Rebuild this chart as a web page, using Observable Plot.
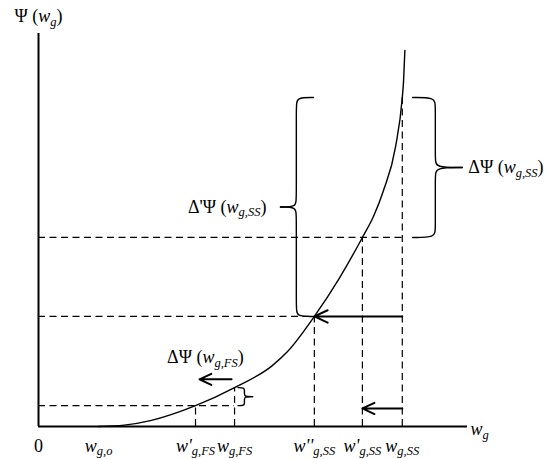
<!DOCTYPE html>
<html><head><meta charset="utf-8">
<script src="https://cdn.jsdelivr.net/npm/d3@7"></script>
<script src="https://cdn.jsdelivr.net/npm/@observablehq/plot@0.6"></script>
<style>html,body{margin:0;padding:0;background:#fff;}</style>
</head><body><div id="chart"></div>
<script>
// ---- data ----
// labelled points along the w_g axis
const xLabels = ["0", "w_g,o", "w'_g,FS", "w_g,FS", "w''_g,SS", "w'_g,SS", "w_g,SS"];
const xValues = [0, 14, 36.6, 45.7, 64.3, 75.5, 84.8];
// Ψ(w) at each labelled point
const psiValues = [0, 0, 5.3, 9.9, 28.0, 48.1, 83.7];
// Ψ(w_g) curve samples
const curveX = [14, 20, 26.1, 36.6, 45.7, 54.5, 58, 64.3, 70, 75.5, 78.1, 80.4, 83.2, 84.8, 85.1, 85.4];
const curveY = [0, 0.35, 1.5, 5.3, 9.9, 15.5, 19, 28.0, 37.5, 48.1, 53.5, 60.0, 71.0, 83.7, 88.0, 95.7];
// axis titles
const axisTitles = ["Ψ (w_g)", "w_g"];
// braces: label, top/bottom point index (Ψ range)
const braceLabels = ["Δ'Ψ (w_g,SS)", "ΔΨ (w_g,SS)", "ΔΨ (w_g,FS)"];
const braceTop = [6, 6, 3];
const braceBottom = [4, 5, 2];
// shifts of arrows: [from index, to index]
const arrowFrom = [6, 6, 3];
const arrowTo = [4, 5, 2];
const arrowLevel = [28.0, 4.6, 12.0];

// ---- layout (annotation geometry, data units) ----
const braceSpineX = [60.1, 92.5, 48.0];
const braceHookX = [64.1, 87.2, 46.5];
const braceTipX = [56.4, 98.8, 49.9];
const braceLabelPos = [{dx: -14, anchor: "end"}, {dx: 6, anchor: "start"}, null];
const fsLabelXY = [38.9, 17.6];

// ---- derived tables ----
const curve = curveX.map((x, i) => ({x, y: curveY[i]}));
const ticks = xLabels.map((label, i) => ({label, x: xValues[i], y: 0}));
const verticals = [2, 3, 4, 5, 6].map(i => ({x: xValues[i], y1: 0, y2: psiValues[i]}));
const horizontals = [[2, 3], [4, 4], [5, 6]].map(([i, j]) => ({y: psiValues[i], x1: 0, x2: xValues[j]}));
const arrows = arrowFrom.map((f, k) => ({x1: xValues[f], x2: xValues[arrowTo[k]], y: arrowLevel[k]}));

const bracePts = [];
const braceText = [];
braceLabels.forEach((label, k) => {
  const y0 = psiValues[braceTop[k]], y1 = psiValues[braceBottom[k]];
  const ym = (y0 + y1) / 2;
  const xs = braceSpineX[k], hx = braceHookX[k], tx = braceTipX[k];
  const d = Math.min(2, (y0 - y1) / 6);
  const up = [[hx, y0], [xs, y0], [xs, y0 - d], [xs, ym + d], [xs, ym], [tx, ym]];
  const lo = [[tx, ym], [xs, ym], [xs, ym - d], [xs, y1 + d], [xs, y1], [hx, y1]];
  up.forEach(([x, y]) => bracePts.push({id: k + "u", x, y}));
  lo.forEach(([x, y]) => bracePts.push({id: k + "l", x, y}));
  const p = braceLabelPos[k];
  if (p) braceText.push({label, x: tx, y: ym, dx: p.dx, anchor: p.anchor});
});

const dash = "7,4.5";
const chart = Plot.plot({
  width: 553, height: 459,
  marginLeft: 38, marginRight: 86, marginTop: 33, marginBottom: 33,
  x: {domain: [0, 100], axis: null},
  y: {domain: [0, 100], axis: null},
  style: {fontFamily: "'Liberation Serif', 'Times New Roman', serif", fontSize: "18px", background: "white", color: "black"},
  marks: [
    Plot.ruleX(verticals, {x: "x", y1: "y1", y2: "y2", strokeDasharray: dash, strokeWidth: 1.2}),
    Plot.ruleY(horizontals, {y: "y", x1: "x1", x2: "x2", strokeDasharray: dash, strokeWidth: 1.2}),
    Plot.line(curve, {x: "x", y: "y", curve: "monotone-x", strokeWidth: 1.4}),
    Plot.arrow(arrows.slice(0, 2), {x1: "x1", x2: "x2", y1: "y", y2: "y", strokeWidth: 2, headLength: 11, headAngle: 50}),
    Plot.arrow(arrows.slice(2), {x1: "x1", x2: "x2", y1: "y", y2: "y", strokeWidth: 2, headLength: 11, headAngle: 50, insetStart: 3, insetEnd: 4}),
    Plot.line(bracePts, {x: "x", y: "y", z: "id", curve: "basis", strokeWidth: 1.4}),
    Plot.ruleX([0], {y1: 0, y2: 100, strokeWidth: 2}),
    Plot.ruleY([0], {x1: 0, x2: 100, strokeWidth: 2}),
    Plot.text(ticks, {x: "x", y: "y", text: "label", dy: 19.5}),
    Plot.text([{label: axisTitles[0], x: 0, y: 100}], {x: "x", y: "y", text: "label", dy: -17}),
    Plot.text([{label: axisTitles[1], x: 100, y: 0}], {x: "x", y: "y", text: "label", dx: 3, dy: 3, textAnchor: "start"}),
    Plot.text(braceText.filter(b => b.anchor === "end"), {x: "x", y: "y", text: "label", dx: -14, textAnchor: "end"}),
    Plot.text(braceText.filter(b => b.anchor === "start"), {x: "x", y: "y", text: "label", dx: 6, textAnchor: "start"}),
    Plot.text([{label: braceLabels[2], x: fsLabelXY[0], y: fsLabelXY[1]}], {x: "x", y: "y", text: "label"})
  ]
});

// rich text: italic w, primes, subscripts
function richText(el) {
  const s = el.textContent;
  const m = s.match(/^([^w]*)(w'*)_([^)]*)(\)?)$/);
  if (!m) return;
  el.textContent = "";
  const ns = "http://www.w3.org/2000/svg";
  const add = (t, opts) => {
    if (!t) return;
    const ts = document.createElementNS(ns, "tspan");
    ts.textContent = t;
    for (const k in opts) ts.setAttribute(k, opts[k]);
    el.appendChild(ts);
  };
  add(m[1], {});
  add(m[2], {"font-style": "italic"});
  add(m[3], {"font-style": "italic", "font-size": "12.5px", dy: "3.5"});
  if (m[4]) add(m[4], {dy: "-3.5"});
}
d3.select(chart).selectAll("text").each(function () { richText(this); });

document.getElementById("chart").appendChild(chart);
</script>
</body></html>
